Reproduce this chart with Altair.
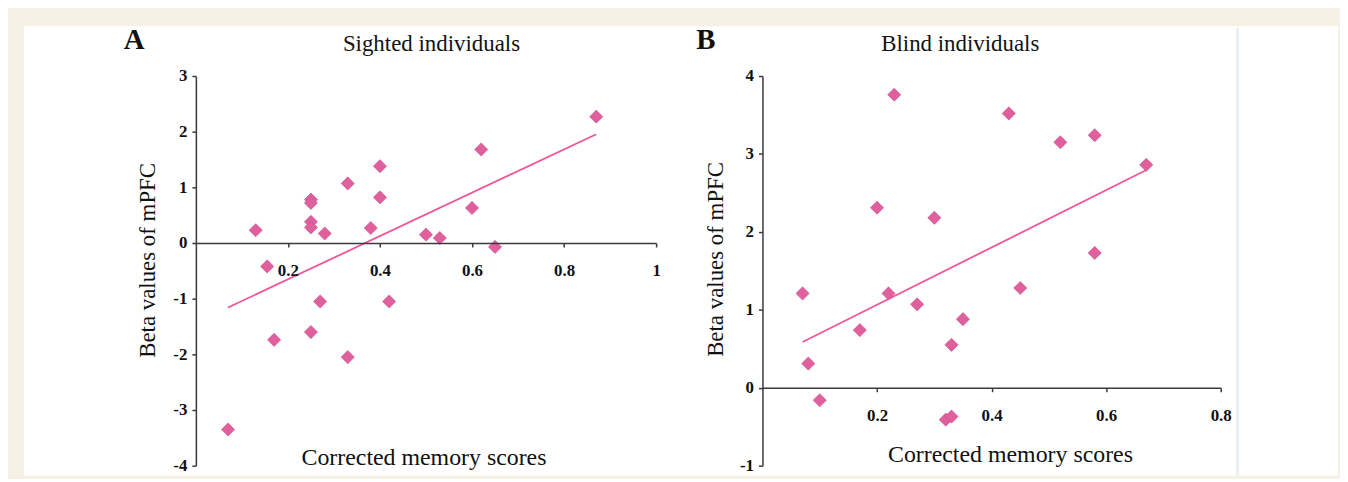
import altair as alt
import pandas as pd

# ---- data ----
sighted_x = [0.87, 0.62, 0.40, 0.33, 0.40, 0.25, 0.25, 0.60, 0.25, 0.25, 0.13, 0.28,
             0.38, 0.50, 0.53, 0.65, 0.155, 0.27, 0.42, 0.25, 0.17, 0.33, 0.07]
sighted_y = [2.27, 1.68, 1.38, 1.07, 0.82, 0.78, 0.72, 0.63, 0.38, 0.28, 0.23, 0.17,
             0.27, 0.15, 0.09, -0.07, -0.42, -1.05, -1.05, -1.60, -1.74, -2.05, -3.35]

blind_x = [0.23, 0.43, 0.58, 0.52, 0.67, 0.20, 0.30, 0.58, 0.45, 0.07, 0.22, 0.27,
           0.35, 0.17, 0.33, 0.08, 0.10, 0.32, 0.33]
blind_y = [3.76, 3.52, 3.24, 3.15, 2.86, 2.31, 2.18, 1.73, 1.28, 1.21, 1.21, 1.07,
           0.88, 0.74, 0.55, 0.31, -0.16, -0.41, -0.37]

sighted_xticks = [0.2, 0.4, 0.6, 0.8, 1.0]
sighted_yticks = [3, 2, 1, 0, -1, -2, -3, -4]
blind_xticks = [0.2, 0.4, 0.6, 0.8]
blind_yticks = [4, 3, 2, 1, 0, -1]

titles = ["Sighted individuals", "Blind individuals"]
letters = ["A", "B"]
x_title = "Corrected memory scores"
y_title = "Beta values of mPFC"

SERIF = "Liberation Serif"
PINK = "#e0609e"
LINE = "#f0559a"
AXC = "#3a3a3a"
BEIGE = "#f5f1e4"
TICK_FS = 17


def panel(xs, ys, xdom, ydom, xticks, yticks, w, h, title, letter,
          title_x, title_y, xt_x, xt_y, yt_x, yt_y, letter_x, letter_y, extras=None):
    df = pd.DataFrame({"x": xs, "y": ys})
    zero_frac = ydom[1] / (ydom[1] - ydom[0])
    x_offset = -(h - h * zero_frac)
    xaxis = alt.Axis(values=xticks, offset=x_offset, grid=False, zindex=1, format=".1~f",
                     domainColor=AXC, domainWidth=1.5, tickColor=AXC, tickWidth=1.5,
                     tickSize=4, labelFont=SERIF, labelFontWeight="bold", labelFontSize=TICK_FS,
                     labelColor="#111", labelPadding=16, labelFlush=False,
                     title=x_title, titleFont=SERIF, titleFontWeight="normal",
                     titleFontSize=24, titleColor="#111", titleX=xt_x, titleY=xt_y,
                     titleBaseline="middle", titleAlign="center")
    yaxis = alt.Axis(values=yticks, grid=False, zindex=1,
                     domainColor=AXC, domainWidth=1.5, tickColor=AXC, tickWidth=1.5,
                     tickSize=4, labelFont=SERIF, labelFontWeight="bold", labelFontSize=TICK_FS,
                     labelColor="#111", labelPadding=5, labelFlush=False,
                     labelExpr="replace(datum.label, '\u2212', '-')",
                     title=y_title, titleFont=SERIF, titleFontWeight="normal",
                     titleFontSize=23, titleColor="#111", titleX=yt_x, titleY=yt_y,
                     titleAngle=270, titleBaseline="middle", titleAlign="center")
    xenc = alt.X("x:Q", scale=alt.Scale(domain=xdom, nice=False, zero=False), axis=xaxis)
    yenc = alt.Y("y:Q", scale=alt.Scale(domain=ydom, nice=False, zero=False), axis=yaxis)

    base = alt.Chart(df)
    pts = base.mark_point(shape="diamond", filled=True, size=175, fill=PINK,
                          stroke="#c9488a", strokeWidth=0.6, opacity=1).encode(x=xenc, y=yenc)
    line = base.transform_regression("x", "y").mark_line(
        color=LINE, strokeWidth=1.8).encode(x=xenc, y=yenc)
    lab = alt.Chart(pd.DataFrame({"t": [letter]})).mark_text(
        font=SERIF, fontWeight="bold", fontSize=29, color="#111",
        align="center", baseline="middle").encode(
        text="t:N", x=alt.value(letter_x), y=alt.value(letter_y))
    ttl = alt.Chart(pd.DataFrame({"t": [title]})).mark_text(
        font=SERIF, fontSize=23, color="#111",
        align="center", baseline="middle").encode(
        text="t:N", x=alt.value(title_x), y=alt.value(title_y))

    layers = []
    if extras:
        layers.extend(extras)
    layers.extend([lab, ttl, line, pts])
    return alt.layer(*layers).properties(width=w, height=h)


one = pd.DataFrame({"k": [0]})
white_bg = alt.Chart(one).mark_rect(color="white").encode(
    x=alt.value(-173), x2=alt.value(1149), y=alt.value(-50), y2=alt.value(402))
faint = alt.Chart(one).mark_rule(color="#e9eef2", strokeWidth=3).encode(
    x=alt.value(1048), y=alt.value(-48), y2=alt.value(402))

pA = panel(sighted_x, sighted_y, [0, 1], [-4, 3], sighted_xticks, sighted_yticks,
           463, 392, titles[0], letters[0],
           title_x=237, title_y=-32, xt_x=229, xt_y=216, yt_x=-49, yt_y=185,
           letter_x=-62, letter_y=-36, extras=[white_bg, faint])
pB = panel(blind_x, blind_y, [0, 0.8], [-1, 4], blind_xticks, blind_yticks,
           461, 392, titles[1], letters[1],
           title_x=199, title_y=-32, xt_x=249, xt_y=67, yt_x=-47, yt_y=184,
           letter_x=-57, letter_y=-36)

chart = alt.hconcat(pA, pB, spacing=107, bounds="flush").properties(
    padding={"left": 16, "top": 17, "right": 2, "bottom": 0}
).configure(background=BEIGE).configure_view(strokeWidth=0).configure_axis(
    labelFont=SERIF, labelFontSize=TICK_FS, labelFontWeight="bold", labelColor="#111")

chart.save("out.html", embed_options={"renderer": "svg", "actions": False})
